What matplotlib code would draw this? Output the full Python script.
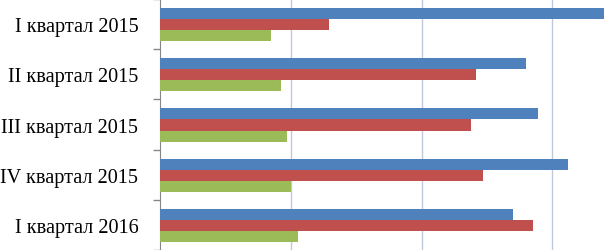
import numpy as np
import matplotlib.pyplot as plt

categories = ['I квартал 2015', 'II квартал 2015', 'III квартал 2015',
              'IV квартал 2015', 'I квартал 2016']
blue_vals = [3.40, 2.80, 2.89, 3.12, 2.70]
red_vals = [1.29, 2.42, 2.38, 2.47, 2.85]
green_vals = [0.85, 0.92, 0.97, 1.00, 1.05]

fig = plt.figure(figsize=(6.07, 2.51), dpi=100)
ax = fig.add_axes([160.5 / 607, 0, 1 - 160.5 / 607, 1])

y = np.arange(len(categories))
h = 0.22
ax.barh(y - h + 0.01, blue_vals, height=h, color='#4F81BD', zorder=3)
ax.barh(y + 0.01, red_vals, height=h, color='#C0504D', zorder=3)
ax.barh(y + h + 0.01, green_vals, height=h, color='#9BBB59', zorder=3)

ax.set_xlim(0, 3.42)
ax.set_ylim(len(categories) - 0.5, -0.5)

ax.set_xticks([1, 2, 3])
ax.xaxis.grid(True, color='#c0c7de', linewidth=1.0, zorder=0)
ax.tick_params(axis='x', bottom=False, labelbottom=False)

ax.set_yticks(y)
ax.set_yticklabels(categories, fontfamily='Liberation Serif', fontsize=14.6)
ax.set_yticks(np.arange(-0.5, len(categories)), minor=True)
ax.tick_params(axis='y', which='major', length=0, pad=16)
ax.tick_params(axis='y', which='minor', length=5, color='#868686', width=1)

for s in ['top', 'right', 'bottom']:
    ax.spines[s].set_visible(False)
ax.spines['left'].set_color('#868686')

fig.savefig('out.png', dpi=100)
